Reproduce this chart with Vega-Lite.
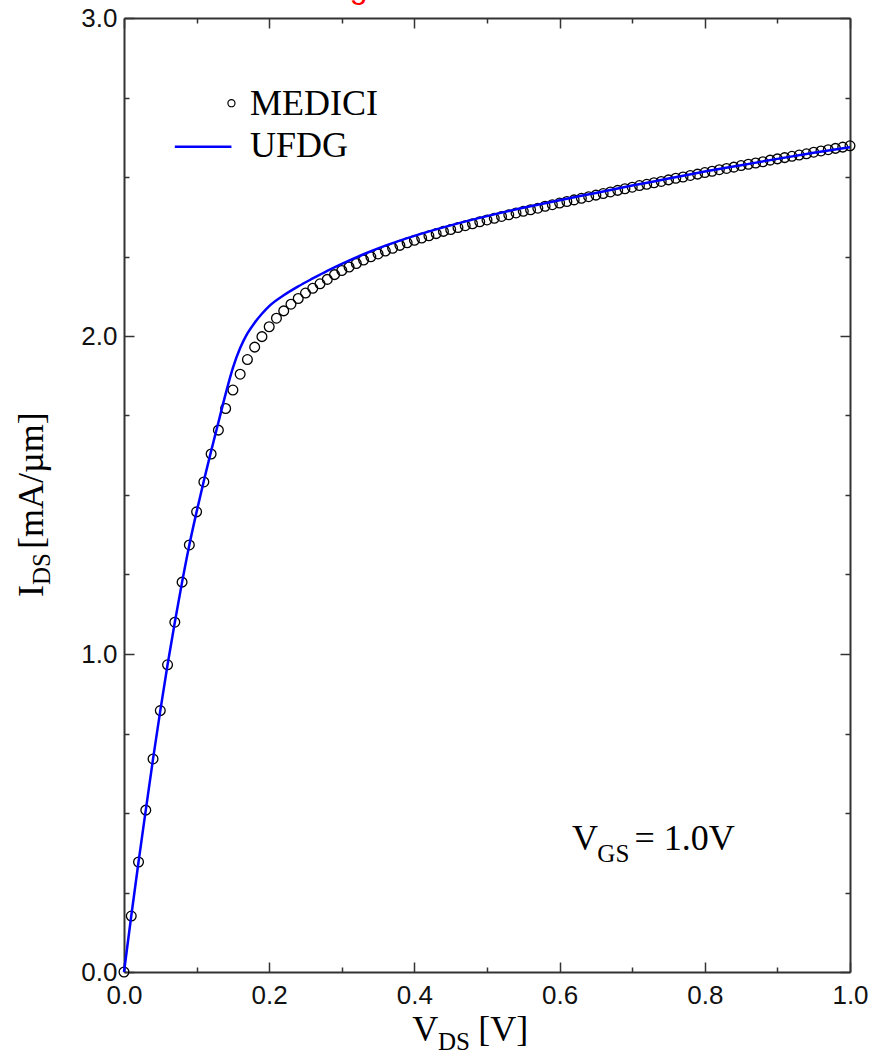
{
  "$schema": "https://vega.github.io/schema/vega-lite/v6.json",
  "width": 726,
  "height": 954,
  "autosize": "none",
  "padding": {"left": 124, "top": 18, "right": 23, "bottom": 86},
  "background": "white",
  "config": {"view": {"stroke": null}},
  "datasets": {
    "medici": [
      {"v":0,"i":0},{"v":0.01,"i":0.176},{"v":0.02,"i":0.346},{"v":0.03,"i":0.509},{"v":0.04,"i":0.670},{"v":0.05,"i":0.822},{"v":0.06,"i":0.966},{"v":0.07,"i":1.100},{"v":0.08,"i":1.226},{"v":0.09,"i":1.343},
      {"v":0.10,"i":1.447},{"v":0.11,"i":1.541},{"v":0.12,"i":1.629},{"v":0.13,"i":1.704},{"v":0.14,"i":1.772},{"v":0.15,"i":1.830},{"v":0.16,"i":1.880},{"v":0.17,"i":1.926},{"v":0.18,"i":1.965},{"v":0.19,"i":1.998},
      {"v":0.20,"i":2.029},{"v":0.21,"i":2.056},{"v":0.22,"i":2.079},{"v":0.23,"i":2.100},{"v":0.24,"i":2.118},{"v":0.25,"i":2.135},{"v":0.26,"i":2.150},{"v":0.27,"i":2.164},{"v":0.28,"i":2.178},{"v":0.29,"i":2.193},
      {"v":0.30,"i":2.206},{"v":0.31,"i":2.217},{"v":0.32,"i":2.228},{"v":0.33,"i":2.239},{"v":0.34,"i":2.249},{"v":0.35,"i":2.258},{"v":0.36,"i":2.267},{"v":0.37,"i":2.276},{"v":0.38,"i":2.285},{"v":0.39,"i":2.293},
      {"v":0.40,"i":2.301},{"v":0.41,"i":2.308},{"v":0.42,"i":2.315},{"v":0.43,"i":2.322},{"v":0.44,"i":2.329},{"v":0.45,"i":2.335},{"v":0.46,"i":2.341},{"v":0.47,"i":2.347},{"v":0.48,"i":2.353},{"v":0.49,"i":2.359},
      {"v":0.50,"i":2.365},{"v":0.51,"i":2.370},{"v":0.52,"i":2.376},{"v":0.53,"i":2.381},{"v":0.54,"i":2.387},{"v":0.55,"i":2.392},{"v":0.56,"i":2.397},{"v":0.57,"i":2.402},{"v":0.58,"i":2.408},{"v":0.59,"i":2.413},
      {"v":0.60,"i":2.418},{"v":0.61,"i":2.423},{"v":0.62,"i":2.428},{"v":0.63,"i":2.433},{"v":0.64,"i":2.438},{"v":0.65,"i":2.443},{"v":0.66,"i":2.448},{"v":0.67,"i":2.453},{"v":0.68,"i":2.458},{"v":0.69,"i":2.463},
      {"v":0.70,"i":2.468},{"v":0.71,"i":2.473},{"v":0.72,"i":2.477},{"v":0.73,"i":2.482},{"v":0.74,"i":2.486},{"v":0.75,"i":2.491},{"v":0.76,"i":2.496},{"v":0.77,"i":2.500},{"v":0.78,"i":2.505},{"v":0.79,"i":2.509},
      {"v":0.80,"i":2.514},{"v":0.81,"i":2.518},{"v":0.82,"i":2.523},{"v":0.83,"i":2.527},{"v":0.84,"i":2.531},{"v":0.85,"i":2.536},{"v":0.86,"i":2.540},{"v":0.87,"i":2.544},{"v":0.88,"i":2.548},{"v":0.89,"i":2.553},
      {"v":0.90,"i":2.557},{"v":0.91,"i":2.561},{"v":0.92,"i":2.565},{"v":0.93,"i":2.569},{"v":0.94,"i":2.573},{"v":0.95,"i":2.578},{"v":0.96,"i":2.582},{"v":0.97,"i":2.586},{"v":0.98,"i":2.590},{"v":0.99,"i":2.594},
      {"v":1.00,"i":2.598}
    ],
    "ufdg": [
      {"v":0,"i":0},{"v":0.01,"i":0.176},{"v":0.02,"i":0.346},{"v":0.03,"i":0.509},{"v":0.04,"i":0.670},{"v":0.05,"i":0.822},{"v":0.06,"i":0.966},{"v":0.07,"i":1.100},{"v":0.08,"i":1.226},{"v":0.09,"i":1.343},
      {"v":0.10,"i":1.447},{"v":0.11,"i":1.545},{"v":0.12,"i":1.638},{"v":0.13,"i":1.728},{"v":0.14,"i":1.818},{"v":0.15,"i":1.900},{"v":0.16,"i":1.962},{"v":0.17,"i":2.008},{"v":0.18,"i":2.042},{"v":0.19,"i":2.070},
      {"v":0.20,"i":2.094},{"v":0.22,"i":2.128},{"v":0.24,"i":2.156},{"v":0.26,"i":2.181},{"v":0.28,"i":2.205},{"v":0.30,"i":2.227},{"v":0.33,"i":2.257},{"v":0.36,"i":2.284},{"v":0.40,"i":2.315},
      {"v":0.45,"i":2.348},{"v":0.50,"i":2.377},{"v":0.55,"i":2.403},{"v":0.60,"i":2.427},{"v":0.65,"i":2.450},{"v":0.70,"i":2.473},{"v":0.75,"i":2.495},{"v":0.80,"i":2.517},{"v":0.85,"i":2.537},{"v":0.90,"i":2.557},{"v":0.95,"i":2.576},{"v":1.00,"i":2.594}
    ]
  },
  "resolve": {"axis": {"x": "independent", "y": "independent"}},
  "layer": [
    {
      "data": {"name": "medici"},
      "mark": {"type": "point", "shape": "circle", "filled": false, "stroke": "black", "strokeWidth": 1.3, "size": 95, "opacity": 1},
      "encoding": {
        "x": {"field": "v", "type": "quantitative", "scale": {"domain": [0, 1], "nice": false, "zero": false},
          "axis": {"orient": "bottom", "title": null, "grid": false, "values": [0,0.1,0.2,0.3,0.4,0.5,0.6,0.7,0.8,0.9,1.0],
            "labelExpr": "round(datum.value*10) % 2 == 0 ? format(datum.value, '.1f') : ''",
            "tickSize": {"condition": {"test": "round(datum.value*10) % 2 == 0", "value": -10}, "value": -5},
            "labelFont": "Liberation Sans", "labelFontSize": 26, "labelColor": "#111", "labelPadding": 20, "labelFlush": false,
            "domainColor": "#333", "domainWidth": 2, "tickColor": "#333", "tickWidth": 1.5}},
        "y": {"field": "i", "type": "quantitative", "scale": {"domain": [0, 3], "nice": false, "zero": false},
          "axis": {"orient": "left", "title": null, "grid": false, "values": [0,0.25,0.5,0.75,1,1.25,1.5,1.75,2,2.25,2.5,2.75,3],
            "labelExpr": "datum.value % 1 == 0 ? format(datum.value, '.1f') : ''",
            "tickSize": {"condition": {"test": "datum.value % 1 == 0", "value": -10}, "value": -5},
            "labelFont": "Liberation Sans", "labelFontSize": 26, "labelColor": "#111", "labelPadding": 17, "labelFlush": false,
            "domainColor": "#333", "domainWidth": 2, "tickColor": "#333", "tickWidth": 1.5}}
      }
    },
    {
      "data": {"name": "ufdg"},
      "mark": {"type": "line", "color": "#0000ff", "strokeWidth": 2.5, "interpolate": "monotone"},
      "encoding": {
        "x": {"field": "v", "type": "quantitative",
          "axis": {"orient": "top", "title": null, "grid": false, "labels": false, "values": [0,0.1,0.2,0.3,0.4,0.5,0.6,0.7,0.8,0.9,1.0],
            "tickSize": {"condition": {"test": "round(datum.value*10) % 2 == 0", "value": -10}, "value": -5},
            "domainColor": "#333", "domainWidth": 2, "tickColor": "#333", "tickWidth": 1.5}},
        "y": {"field": "i", "type": "quantitative",
          "axis": {"orient": "right", "title": null, "grid": false, "labels": false, "values": [0,0.25,0.5,0.75,1,1.25,1.5,1.75,2,2.25,2.5,2.75,3],
            "tickSize": {"condition": {"test": "datum.value % 1 == 0", "value": -10}, "value": -5},
            "domainColor": "#333", "domainWidth": 2, "tickColor": "#333", "tickWidth": 1.5}}
      }
    },
    {
      "data": {"values": [{"v": 0.148, "i": 2.732}]},
      "mark": {"type": "point", "shape": "circle", "filled": false, "stroke": "black", "strokeWidth": 1.2, "size": 50, "opacity": 1},
      "encoding": {"x": {"field": "v", "type": "quantitative", "axis": null}, "y": {"field": "i", "type": "quantitative", "axis": null}}
    },
    {
      "data": {"values": [{"v": 0.070, "v2": 0.148, "i": 2.595}]},
      "mark": {"type": "rule", "color": "#0000ff", "strokeWidth": 2.5},
      "encoding": {"x": {"field": "v", "type": "quantitative", "axis": null}, "x2": {"field": "v2"}, "y": {"field": "i", "type": "quantitative", "axis": null}}
    },
    {
      "data": {"values": [{"v": 0.311, "i": 3.062, "t": "g"}]},
      "mark": {"type": "text", "font": "Liberation Sans", "fontSize": 32, "align": "left", "baseline": "alphabetic", "color": "red"},
      "encoding": {"x": {"field": "v", "type": "quantitative", "axis": null}, "y": {"field": "i", "type": "quantitative", "axis": null}, "text": {"field": "t"}}
    },
    {
      "data": {"values": [{"v": 0.1736, "i": 2.695, "t": "MEDICI"}, {"v": 0.1736, "i": 2.563, "t": "UFDG"}, {"v": 0.617, "i": 0.384, "t": "V"}, {"v": 0.703, "i": 0.384, "t": "= 1.0V"}, {"v": 0.397, "i": -0.217, "t": "V"}, {"v": 0.488, "i": -0.217, "t": "[V]"}]},
      "mark": {"type": "text", "font": "Liberation Serif", "fontSize": 36, "align": "left", "baseline": "alphabetic", "color": "black"},
      "encoding": {"x": {"field": "v", "type": "quantitative", "axis": null}, "y": {"field": "i", "type": "quantitative", "axis": null}, "text": {"field": "t"}}
    },
    {
      "data": {"values": [{"v": 0.652, "i": 0.346, "t": "GS"}, {"v": 0.4325, "i": -0.245, "t": "DS"}]},
      "mark": {"type": "text", "font": "Liberation Serif", "fontSize": 25, "align": "left", "baseline": "alphabetic", "color": "black"},
      "encoding": {"x": {"field": "v", "type": "quantitative", "axis": null}, "y": {"field": "i", "type": "quantitative", "axis": null}, "text": {"field": "t"}}
    },
    {
      "data": {"values": [{"v": -0.1116, "i": 1.179, "t": "I"}, {"v": -0.1116, "i": 1.33, "t": "[mA/µm]"}]},
      "mark": {"type": "text", "font": "Liberation Serif", "fontSize": 36, "align": "left", "baseline": "alphabetic", "angle": 270, "color": "black"},
      "encoding": {"x": {"field": "v", "type": "quantitative", "axis": null}, "y": {"field": "i", "type": "quantitative", "axis": null}, "text": {"field": "t"}}
    },
    {
      "data": {"values": [{"v": -0.1019, "i": 1.217, "t": "DS"}]},
      "mark": {"type": "text", "font": "Liberation Serif", "fontSize": 25, "align": "left", "baseline": "alphabetic", "angle": 270, "color": "black"},
      "encoding": {"x": {"field": "v", "type": "quantitative", "axis": null}, "y": {"field": "i", "type": "quantitative", "axis": null}, "text": {"field": "t"}}
    }
  ]
}
